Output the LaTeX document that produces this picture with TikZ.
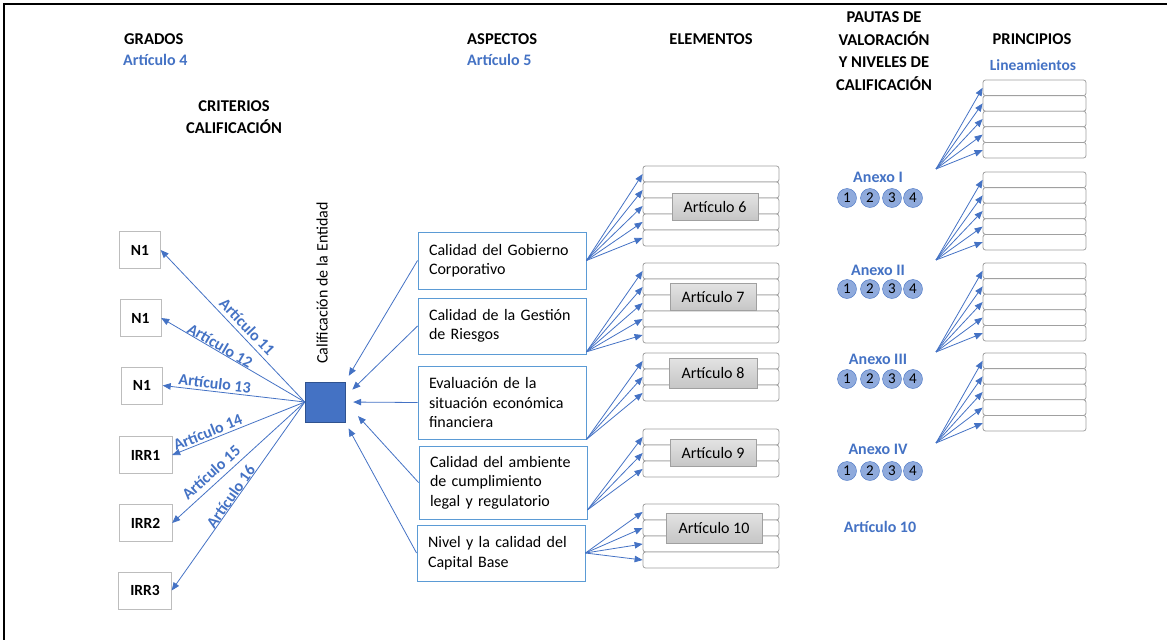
\documentclass[tikz,border=0pt]{standalone}
\usepackage{fontspec}
\setmainfont{Carlito}
\usetikzlibrary{positioning,arrows.meta}

\definecolor{azul}{HTML}{4472C4}
\definecolor{azulosc}{HTML}{2F528F}
\definecolor{azulbox}{HTML}{5B9BD5}
\definecolor{gris}{HTML}{A0A0A0}
\definecolor{bolafill}{HTML}{8FAADC}

\begin{document}
\begin{tikzpicture}[x=1pt,y=-1pt,font=\fontsize{16}{19.5}\selectfont,
  titulo/.style={font=\fontsize{16.5}{22.5}\selectfont\bfseries,align=center,inner sep=0},
  enlace/.style={font=\fontsize{16}{19}\selectfont\bfseries,text=azul,inner sep=0},
  grado/.style={draw=gris!70,fill=white,font=\fontsize{15.5}{19}\selectfont\bfseries,minimum height=37pt,inner sep=0},
  aspecto/.style={draw=azulbox,line width=0.9pt,fill=white,text width=146pt,inner xsep=11pt,inner ysep=0,align=left},
  fila/.style={draw=gris,line width=0.8pt,fill=white,rounded corners=2.5pt,minimum width=136pt,minimum height=16pt,inner sep=0},
  filap/.style={fila,minimum width=103pt,minimum height=15.6pt},
  artbox/.style={draw=gris,top color=gray!22,bottom color=gray!45,minimum width=86pt,minimum height=27pt,inner sep=0},
  nivel/.style={circle,draw=azul,fill=bolafill,minimum size=19pt,inner sep=0,font=\fontsize{15}{16}\selectfont},
  flecha/.style={draw=azul,line width=0.8pt,-{Triangle[length=8pt,width=6.5pt]}}]
\useasboundingbox (0,0) rectangle (1167,640);
\draw[line width=2pt] (1167,4) -- (4,4) -- (4,640);

% titulos
\node[titulo,anchor=west] (grados) at (124,39) {GRADOS};
\node[enlace,anchor=west] (art4) at (123,60) {Artículo 4};
\node[titulo] (criterios) at (234,117) {CRITERIOS\\CALIFICACIÓN};
\node[titulo,anchor=west] (aspectos) at (467,39) {ASPECTOS};
\node[enlace,anchor=west] (art5) at (467,60) {Artículo 5};
\node[titulo] (elementos) at (711,39) {ELEMENTOS};
\node[titulo] (pautas) at (884,51) {PAUTAS DE\\VALORACIÓN\\Y NIVELES DE\\CALIFICACIÓN};
\node[titulo] (principios) at (1032,39) {PRINCIPIOS};
\node[enlace,font=\fontsize{15.5}{19}\selectfont\bfseries] (lineam) at (1033,65) {Lineamientos};

% entidad
\node[draw=azulosc,fill=azul,minimum size=40pt,inner sep=0] (ent) at (325,402) {};
\node[rotate=90,inner sep=0] (calif) at (322,283) {Calificación de la Entidad};

% grados
\node[grado,minimum width=41pt] (n1a) at (140,250) {N1};
\node[grado,minimum width=41pt] (n1b) at (140.5,318) {N1};
\node[grado,minimum width=41pt] (n1c) at (142,385.5) {N1};
\node[grado,minimum width=53pt] (irr1) at (145.5,455) {IRR1};
\node[grado,minimum width=53pt] (irr2) at (145.5,523) {IRR2};
\node[grado,minimum width=53pt] (irr3) at (145,590.5) {IRR3};

\draw[flecha] (ent.west) -- node[enlace,sloped,above=4pt,pos=0.45] {Artículo 11} (n1a.east);
\draw[flecha] (ent.west) -- node[enlace,sloped,above=0pt,pos=0.61] {Artículo 12} (n1b.east);
\draw[flecha] (ent.west) -- node[enlace,sloped,above=2pt,pos=0.64] {Artículo 13} (n1c.east);
\draw[flecha] (ent.west) -- node[enlace,sloped,above=2pt,pos=0.71] {Artículo 14} (irr1.east);
\draw[flecha] (ent.west) -- node[enlace,sloped,above=5pt,pos=0.65] {Artículo 15} (irr2.east);
\draw[flecha] (ent.west) -- node[enlace,sloped,above=0pt,pos=0.52] {Artículo 16} (irr3.east);

% aspectos
\node[aspecto,minimum height=57pt] (asp1) at (502,260.5) {Calidad del Gobierno\\Corporativo};
\node[aspecto,minimum height=56pt] (asp2) at (502,326) {Calidad de la Gestión\\de Riesgos};
\node[aspecto,minimum height=73pt] (asp3) at (502,402.5) {Evaluación de la\\situación económica\\financiera};
\node[aspecto,minimum height=73pt] (asp4) at (503,482.5) {Calidad del ambiente\\de cumplimiento\\legal y regulatorio};
\node[aspecto,minimum height=56pt] (asp5) at (501,553) {Nivel y la calidad del\\Capital Base};

\draw[flecha,shorten >=7pt] (asp1.west) -- (ent.north east);
\draw[flecha,shorten >=10pt] (asp2.west) -- (ent.15);
\draw[flecha,shorten >=8pt] (asp3.west) -- (ent.east);
\draw[flecha,shorten >=19pt] (asp4.west) -- (ent.east);
\draw[flecha,shorten >=7pt] (asp5.west) -- (ent.south east);

% elementos
\foreach \n/\top/\k in {6/166/5, 7/263/5, 8/353/3, 9/429/3, 10/504/4}
  \foreach \i in {1,...,\k}
    \node[fila] (e\n-\i) at (711,{\top+(\i-0.5)*16}) {};
\node[artbox] (art6) at (715,207) {Artículo 6};
\node[artbox] (art7) at (713,297) {Artículo 7};
\node[artbox,minimum width=88pt,minimum height=30pt] (art8) at (713,373) {Artículo 8};
\node[artbox] (art9) at (713,453) {Artículo 9};
\node[artbox,minimum width=96pt,minimum height=30pt] (art10) at (714,528) {Artículo 10};

\foreach \a/\n/\k/\ang in {1/6/5/east, 2/7/5/-17, 3/8/3/south east, 4/9/3/-18, 5/10/4/east}
  \foreach \i in {1,...,\k}
    \draw[flecha] (asp\a.\ang) -- (e\n-\i.west);

% pautas y principios
\foreach \g/\top/\src in {1/80/169, 2/172/260, 3/263/352, 4/353/443} {
  \coordinate (s\g) at (936,\src);
  \foreach \i in {1,...,5}
    \node[filap] (p\g-\i) at (1034.5,{\top+(\i-0.5)*15.6}) {};
  \foreach \i in {1,...,5}
    \draw[flecha] (s\g) -- (p\g-\i.west);
}
\foreach \g/\nom/\ly/\cy in {1/I/177/198, 2/II/270/289, 3/III/359/379, 4/IV/449/471} {
  \node[enlace] (anx\g) at (878,\ly) {Anexo \nom};
  \foreach \j/\cx in {1/847, 2/870, 3/892, 4/913}
    \node[nivel] (v\g-\j) at (\cx,\cy) {\j};
}
\node[enlace] (art10b) at (880,527) {Artículo 10};
\end{tikzpicture}
\end{document}
